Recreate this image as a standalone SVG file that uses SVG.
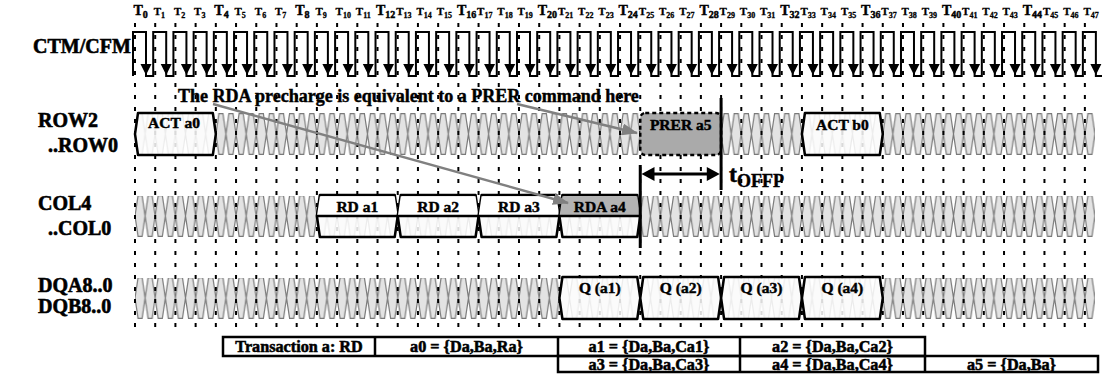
<svg xmlns="http://www.w3.org/2000/svg" width="1102" height="381" viewBox="0 0 1102 381">
<style>
text{font-family:"Liberation Serif","Times New Roman",serif;font-weight:bold;fill:#000;stroke:#000;stroke-width:0.45}
.lab{font-size:20px;stroke-width:0.6}
.tb{font-size:14px}
.ts{font-size:11px;stroke-width:0.3}
.sb{font-size:10px}
.ss{font-size:8px}
.box{fill:#fff;fill-opacity:.85;stroke:#000;stroke-width:2.5;stroke-linejoin:round}
.bt{font-size:15.5px;text-anchor:middle}
.tab{font-size:16.2px;text-anchor:middle;stroke-width:0.55}
.cell{fill:none;stroke:#000;stroke-width:2.5}
.grid{fill:none;stroke:#000;stroke-width:2;stroke-dasharray:4 8}
.garrow{fill:none;stroke:#808080;stroke-width:2.5}
.thick{stroke:#000;stroke-width:3}
</style>
<defs>
<pattern id="bus" patternUnits="userSpaceOnUse" x="135" y="113" width="20.21" height="82">
<path d="M3,0.6H7.1L10.105,21L7.1,41.4H3L0,21Z M13.1,0.6H17.21L20.21,21L17.21,41.4H13.1L10.105,21Z" fill="#e3e3e3" stroke="#7a7a7a" stroke-width="1.2"/>
</pattern>
<marker id="ga" markerUnits="userSpaceOnUse" markerWidth="16" markerHeight="12" refX="15" refY="6" orient="auto">
<path d="M0,0L16,6L0,12Z" fill="#808080"/>
</marker>
</defs>

<g id="tick-labels">
<text class="tb" x="133.5" y="15">T<tspan class="sb" dy="3">0</tspan></text>
<text class="ts" x="153.7" y="15">T<tspan class="ss" dy="3">1</tspan></text>
<text class="ts" x="173.9" y="15">T<tspan class="ss" dy="3">2</tspan></text>
<text class="ts" x="194.1" y="15">T<tspan class="ss" dy="3">3</tspan></text>
<text class="tb" x="214.3" y="15">T<tspan class="sb" dy="3">4</tspan></text>
<text class="ts" x="234.5" y="15">T<tspan class="ss" dy="3">5</tspan></text>
<text class="ts" x="254.8" y="15">T<tspan class="ss" dy="3">6</tspan></text>
<text class="ts" x="275.0" y="15">T<tspan class="ss" dy="3">7</tspan></text>
<text class="tb" x="295.2" y="15">T<tspan class="sb" dy="3">8</tspan></text>
<text class="ts" x="315.4" y="15">T<tspan class="ss" dy="3">9</tspan></text>
<text class="ts" x="335.6" y="15">T<tspan class="ss" dy="3">10</tspan></text>
<text class="ts" x="355.8" y="15">T<tspan class="ss" dy="3">11</tspan></text>
<text class="tb" x="376.0" y="15">T<tspan class="sb" dy="3">12</tspan></text>
<text class="ts" x="396.2" y="15">T<tspan class="ss" dy="3">13</tspan></text>
<text class="ts" x="416.4" y="15">T<tspan class="ss" dy="3">14</tspan></text>
<text class="ts" x="436.7" y="15">T<tspan class="ss" dy="3">15</tspan></text>
<text class="tb" x="456.9" y="15">T<tspan class="sb" dy="3">16</tspan></text>
<text class="ts" x="477.1" y="15">T<tspan class="ss" dy="3">17</tspan></text>
<text class="ts" x="497.3" y="15">T<tspan class="ss" dy="3">18</tspan></text>
<text class="ts" x="517.5" y="15">T<tspan class="ss" dy="3">19</tspan></text>
<text class="tb" x="537.7" y="15">T<tspan class="sb" dy="3">20</tspan></text>
<text class="ts" x="557.9" y="15">T<tspan class="ss" dy="3">21</tspan></text>
<text class="ts" x="578.1" y="15">T<tspan class="ss" dy="3">22</tspan></text>
<text class="ts" x="598.3" y="15">T<tspan class="ss" dy="3">23</tspan></text>
<text class="tb" x="618.5" y="15">T<tspan class="sb" dy="3">24</tspan></text>
<text class="ts" x="638.8" y="15">T<tspan class="ss" dy="3">25</tspan></text>
<text class="ts" x="659.0" y="15">T<tspan class="ss" dy="3">26</tspan></text>
<text class="ts" x="679.2" y="15">T<tspan class="ss" dy="3">27</tspan></text>
<text class="tb" x="699.4" y="15">T<tspan class="sb" dy="3">28</tspan></text>
<text class="ts" x="719.6" y="15">T<tspan class="ss" dy="3">29</tspan></text>
<text class="ts" x="739.8" y="15">T<tspan class="ss" dy="3">30</tspan></text>
<text class="ts" x="760.0" y="15">T<tspan class="ss" dy="3">31</tspan></text>
<text class="tb" x="780.2" y="15">T<tspan class="sb" dy="3">32</tspan></text>
<text class="ts" x="800.4" y="15">T<tspan class="ss" dy="3">33</tspan></text>
<text class="ts" x="820.6" y="15">T<tspan class="ss" dy="3">34</tspan></text>
<text class="ts" x="840.9" y="15">T<tspan class="ss" dy="3">35</tspan></text>
<text class="tb" x="861.1" y="15">T<tspan class="sb" dy="3">36</tspan></text>
<text class="ts" x="881.3" y="15">T<tspan class="ss" dy="3">37</tspan></text>
<text class="ts" x="901.5" y="15">T<tspan class="ss" dy="3">38</tspan></text>
<text class="ts" x="921.7" y="15">T<tspan class="ss" dy="3">39</tspan></text>
<text class="tb" x="941.9" y="15">T<tspan class="sb" dy="3">40</tspan></text>
<text class="ts" x="962.1" y="15">T<tspan class="ss" dy="3">41</tspan></text>
<text class="ts" x="982.3" y="15">T<tspan class="ss" dy="3">42</tspan></text>
<text class="ts" x="1002.5" y="15">T<tspan class="ss" dy="3">43</tspan></text>
<text class="tb" x="1022.7" y="15">T<tspan class="sb" dy="3">44</tspan></text>
<text class="ts" x="1043.0" y="15">T<tspan class="ss" dy="3">45</tspan></text>
<text class="ts" x="1063.2" y="15">T<tspan class="ss" dy="3">46</tspan></text>
<text class="ts" x="1083.4" y="15">T<tspan class="ss" dy="3">47</tspan></text>
</g>

<g id="signal-labels">
<text class="lab" x="33" y="53">CTM/CFM</text>
<text class="lab" x="38" y="127">ROW2</text>
<text class="lab" x="48" y="152">..ROW0</text>
<text class="lab" x="38" y="210">COL4</text>
<text class="lab" x="48" y="235">..COL0</text>
<text class="lab" x="38" y="292">DQA8..0</text>
<text class="lab" x="38" y="313">DQB8..0</text>
</g>

<g id="bus-background">
<rect x="135" y="113" width="960" height="42" fill="url(#bus)"/>
<rect x="135" y="195" width="960" height="42" fill="url(#bus)"/>
<rect x="135" y="277" width="960" height="42" fill="url(#bus)"/>
</g>

<g id="grid">
<path class="grid" d="M135,23V332M155.21,23V332M175.42,23V332M195.63,23V332M215.84,23V332M236.05,23V332M256.26,23V332M276.47,23V332M296.68,23V332M316.89,23V332M337.1,23V332M357.31,23V332M377.52,23V332M397.73,23V332M417.94,23V332M438.15,23V332M458.36,23V332M478.57,23V332M498.78,23V332M518.99,23V332M539.2,23V332M559.41,23V332M579.62,23V332M599.83,23V332M620.04,23V332M640.25,23V332M660.46,23V332M680.67,23V332M700.88,23V332M721.09,23V332M741.3,23V332M761.51,23V332M781.72,23V332M801.93,23V332M822.14,23V332M842.35,23V332M862.56,23V332M882.77,23V332M902.98,23V332M923.19,23V332M943.4,23V332M963.61,23V332M983.82,23V332M1004.03,23V332M1024.24,23V332M1044.45,23V332M1064.66,23V332M1084.87,23V332"/>
</g>

<g id="clock">
<path fill="none" stroke="#000" stroke-width="2" d="M133,76V32h13V76h7.21V32h13V76h7.21V32h13V76h7.21V32h13V76h7.21V32h13V76h7.21V32h13V76h7.21V32h13V76h7.21V32h13V76h7.21V32h13V76h7.21V32h13V76h7.21V32h13V76h7.21V32h13V76h7.21V32h13V76h7.21V32h13V76h7.21V32h13V76h7.21V32h13V76h7.21V32h13V76h7.21V32h13V76h7.21V32h13V76h7.21V32h13V76h7.21V32h13V76h7.21V32h13V76h7.21V32h13V76h7.21V32h13V76h7.21V32h13V76h7.21V32h13V76h7.21V32h13V76h7.21V32h13V76h7.21V32h13V76h7.21V32h13V76h7.21V32h13V76h7.21V32h13V76h7.21V32h13V76h7.21V32h13V76h7.21V32h13V76h7.21V32h13V76h7.21V32h13V76h7.21V32h13V76h7.21V32h13V76h7.21V32h13V76h7.21V32h13V76h7.21V32h13V76h7.21V32h13V76h7.21V32h13V76h7.21V32h13V76h7.21V32h13V76h7.21V32h13V76h7.21V32h13V76h7.21"/>
<path fill="#000" d="M146,75l-5.5,-11h11z m20.21,0l-5.5,-11h11z m20.21,0l-5.5,-11h11z m20.21,0l-5.5,-11h11z m20.21,0l-5.5,-11h11z m20.21,0l-5.5,-11h11z m20.21,0l-5.5,-11h11z m20.21,0l-5.5,-11h11z m20.21,0l-5.5,-11h11z m20.21,0l-5.5,-11h11z m20.21,0l-5.5,-11h11z m20.21,0l-5.5,-11h11z m20.21,0l-5.5,-11h11z m20.21,0l-5.5,-11h11z m20.21,0l-5.5,-11h11z m20.21,0l-5.5,-11h11z m20.21,0l-5.5,-11h11z m20.21,0l-5.5,-11h11z m20.21,0l-5.5,-11h11z m20.21,0l-5.5,-11h11z m20.21,0l-5.5,-11h11z m20.21,0l-5.5,-11h11z m20.21,0l-5.5,-11h11z m20.21,0l-5.5,-11h11z m20.21,0l-5.5,-11h11z m20.21,0l-5.5,-11h11z m20.21,0l-5.5,-11h11z m20.21,0l-5.5,-11h11z m20.21,0l-5.5,-11h11z m20.21,0l-5.5,-11h11z m20.21,0l-5.5,-11h11z m20.21,0l-5.5,-11h11z m20.21,0l-5.5,-11h11z m20.21,0l-5.5,-11h11z m20.21,0l-5.5,-11h11z m20.21,0l-5.5,-11h11z m20.21,0l-5.5,-11h11z m20.21,0l-5.5,-11h11z m20.21,0l-5.5,-11h11z m20.21,0l-5.5,-11h11z m20.21,0l-5.5,-11h11z m20.21,0l-5.5,-11h11z m20.21,0l-5.5,-11h11z m20.21,0l-5.5,-11h11z m20.21,0l-5.5,-11h11z m20.21,0l-5.5,-11h11z m20.21,0l-5.5,-11h11z m20.21,0l-5.5,-11h11z"/>
</g>

<g id="act-a0">
<path class="box" d="M138,113H212.84L215.84,134L212.84,155H138L135,134Z"/>
<text class="bt" x="174" y="128">ACT a0</text>
</g>
<g id="prer-a5">
<rect x="640.25" y="113" width="80.84" height="42" rx="5" fill="#aaaaaa" stroke="#000" stroke-width="2.5" stroke-dasharray="4 3"/>
<text class="bt" x="680.7" y="130">PRER a5</text>
</g>
<g id="act-b0">
<path class="box" d="M804.93,113H879.77L882.77,134L879.77,155H804.93L801.93,134Z"/>
<text class="bt" x="842.4" y="130">ACT b0</text>
</g>

<g id="rd-a1">
<path class="box" d="M319.89,195H394.73L397.73,216L394.73,237H319.89L316.89,216Z"/>
<path d="M319.89,196.2H394.73L397.5,215H317.1Z" fill="#fff"/>
<text class="bt" x="357.3" y="212">RD a1</text>
</g>
<g id="rd-a2">
<path class="box" d="M400.73,195H475.57L478.57,216L475.57,237H400.73L397.73,216Z"/>
<path d="M400.73,196.2H475.57L478.3,215H398Z" fill="#fff"/>
<text class="bt" x="438.2" y="212">RD a2</text>
</g>
<g id="rd-a3">
<path class="box" d="M481.57,195H556.41L559.41,216L556.41,237H481.57L478.57,216Z"/>
<path d="M481.57,196.2H556.41L559.2,215H478.8Z" fill="#fff"/>
<text class="bt" x="519" y="212">RD a3</text>
</g>
<g id="rda-a4">
<path class="box" d="M562.41,195H637.25L640.25,216L637.25,237H562.41L559.41,216Z"/>
<path d="M562.41,196.2H637.25L640,215H559.7Z" fill="#b3b3b3"/>
<text class="bt" x="599.8" y="212">RDA a4</text>
</g>
<path d="M316.89,216H640.25" stroke="#000" stroke-width="2.5"/>

<g id="q-a1">
<path class="box" d="M562.41,277H637.25L640.25,298L637.25,319H562.41L559.41,298Z"/>
<text class="bt" x="599.8" y="293">Q (a1)</text>
</g>
<g id="q-a2">
<path class="box" d="M643.25,277H718.09L721.09,298L718.09,319H643.25L640.25,298Z"/>
<text class="bt" x="680.7" y="293">Q (a2)</text>
</g>
<g id="q-a3">
<path class="box" d="M724.09,277H798.93L801.93,298L798.93,319H724.09L721.09,298Z"/>
<text class="bt" x="761.5" y="293">Q (a3)</text>
</g>
<g id="q-a4">
<path class="box" d="M804.93,277H879.77L882.77,298L879.77,319H804.93L801.93,298Z"/>
<text class="bt" x="842.4" y="293">Q (a4)</text>
</g>

<g id="annotation">
<text x="178" y="102" style="font-size:18px">The RDA precharge is equivalent to a PRER command here</text>
</g>

<g id="connectors">
<path class="garrow" d="M213,104L568,203" marker-end="url(#ga)"/>
<path class="garrow" d="M517,104L637,133" marker-end="url(#ga)"/>
<path class="thick" d="M721.09,98V190"/>
<path class="thick" d="M640.25,165V248"/>
<path class="thick" d="M654,174H707"/>
<path d="M641.5,174l13,-7v14z M719.8,174l-13,-7v14z" fill="#000"/>
</g>

<g id="toffp">
<text x="729" y="182" style="font-size:24px">t<tspan dy="5" style="font-size:18px">OFFP</tspan></text>
</g>

<g id="table">
<rect class="cell" x="223" y="337" width="702" height="19"/>
<path class="cell" d="M375,337V356M558,337V356M740,337V356"/>
<rect class="cell" x="558" y="356" width="540" height="16"/>
<path class="cell" d="M740,356V372M925,356V372"/>
<text class="tab" x="299" y="351.5">Transaction a: RD</text>
<text class="tab" x="466.5" y="351.5">a0 = {Da,Ba,Ra}</text>
<text class="tab" x="649" y="351.5">a1 = {Da,Ba,Ca1}</text>
<text class="tab" x="832.5" y="351.5">a2 = {Da,Ba,Ca2}</text>
<text class="tab" x="649" y="369.5">a3 = {Da,Ba,Ca3}</text>
<text class="tab" x="832.5" y="369.5">a4 = {Da,Ba,Ca4}</text>
<text class="tab" x="1011.5" y="369.5">a5 = {Da,Ba}</text>
</g>
</svg>
